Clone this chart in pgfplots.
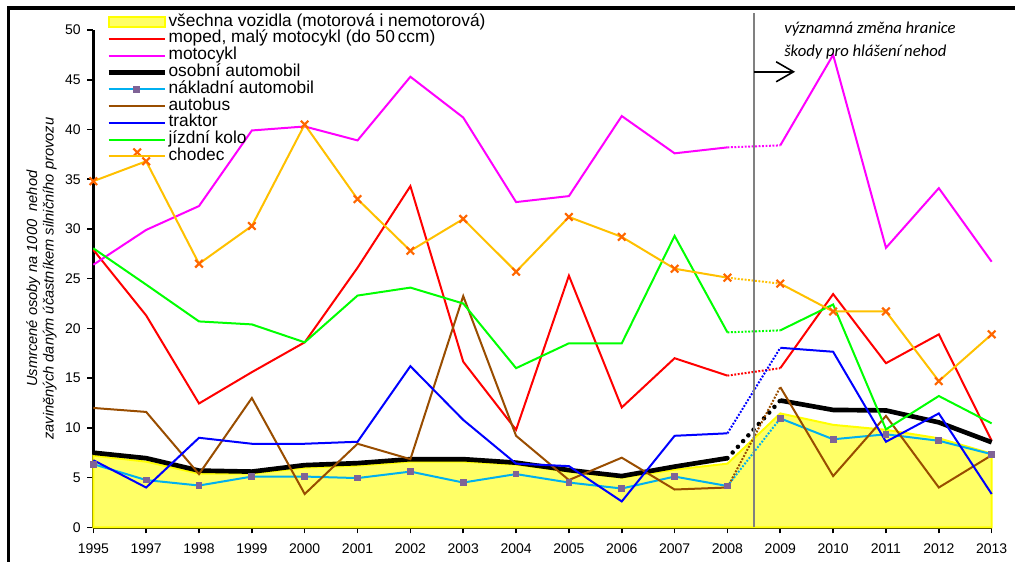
\documentclass[border=0pt]{standalone}
\usepackage{pgfplots}
\pgfplotsset{compat=1.18}
\usepackage{pgfplotstable}
\usepackage{fontspec}
\setmainfont{Liberation Sans}
\newfontfamily\annfont{Carlito}
\usetikzlibrary{arrows.meta}

\definecolor{cyellowfill}{HTML}{FFFF66}
\definecolor{cyellow}{HTML}{FFFF00}
\definecolor{cred}{HTML}{FF0000}
\definecolor{cmag}{HTML}{FF00FF}
\definecolor{ccyan}{HTML}{00B0F0}
\definecolor{cpurple}{HTML}{7F6396}
\definecolor{cbrown}{HTML}{994D00}
\definecolor{cblue}{HTML}{0000FF}
\definecolor{cgreen}{HTML}{00FF00}
\definecolor{corange}{HTML}{FFC000}
\definecolor{cxmark}{HTML}{FF6600}
\definecolor{cgray}{HTML}{808080}

\pgfplotsset{
  linleg/.style={legend image code/.code={\draw[##1] (0pt,0pt) -- (42pt,0pt);}},
  arealeg/.style={legend image code/.code={\draw[##1] (0pt,-3.5pt) rectangle (42pt,3.5pt);}},
  markleg/.style={legend image code/.code={\draw[mark repeat=2, mark phase=2, ##1] plot coordinates {(0pt,0pt) (21pt,0pt) (42pt,0pt)};}},
}

\pgfplotstableread{
x all moped moto osobni nakl autobus traktor kolo chodec
0 7.2 27.9 26.4 7.5 6.35 12.0 6.75 28.05 34.8
1 6.6 21.3 29.9 6.95 4.75 11.6 4.0 24.4 36.8
2 5.4 12.45 32.3 5.7 4.2 5.35 9.0 20.7 26.5
3 5.4 15.6 39.9 5.6 5.1 13.0 8.4 20.4 30.3
4 6.0 18.6 40.3 6.25 5.1 3.35 8.4 18.6 40.5
5 6.2 26.1 38.9 6.45 4.95 8.4 8.6 23.3 33.0
6 6.6 34.3 45.3 6.85 5.6 6.85 16.2 24.1 27.8
7 6.6 16.65 41.2 6.85 4.5 23.25 10.8 22.5 31.0
8 6.3 9.8 32.7 6.5 5.35 9.2 6.4 16.0 25.7
9 5.6 25.3 33.3 5.75 4.5 4.75 6.15 18.5 31.2
10 5.0 12.05 41.35 5.15 3.9 7.0 2.6 18.5 29.2
11 5.8 17.0 37.6 6.1 5.1 3.8 9.2 29.3 26.0
12 6.4 15.25 38.2 6.95 4.15 4.0 9.45 19.6 25.1
13 11.45 16.0 38.4 12.75 10.95 14.1 18.05 19.8 24.5
14 10.3 23.45 47.5 11.8 8.85 5.15 17.65 22.4 21.7
15 9.8 16.5 28.1 11.75 9.35 11.2 8.6 9.85 21.7
16 8.95 19.4 34.1 10.55 8.7 4.0 11.45 13.2 14.7
17 7.4 8.7 26.7 8.55 7.35 7.25 3.35 10.45 19.4
}\data

\begin{document}
\begin{tikzpicture}
% outer frame (left and top edges of the chart area), drawn first
\fill[black] (-64.8pt,-30pt) rectangle (-62.3pt,390.8pt);
\fill[black] (-64.8pt,388.3pt) rectangle (700pt,390.8pt);
\begin{axis}[
  at={(0pt,0pt)}, anchor=south west,
  scale only axis, width=673.8pt, height=373pt,
  xmin=0, xmax=17, ymin=0, ymax=50,
  axis x line*=bottom, axis y line*=left,
  axis line style={line width=2pt, -},
  xtick={0,...,17},
  xticklabels={1995,1997,1998,1999,2000,2001,2002,2003,2004,2005,2006,2007,2008,2009,2010,2011,2012,2013},
  ytick={0,5,...,50},
  tick align=outside,
  major tick length=4.5pt,
  tick style={black, line width=1.2pt},
  ticklabel style={font=\fontsize{10.5}{12}\selectfont},
  xticklabel style={yshift=-4pt},
  yticklabel style={xshift=-1.5pt},
  /pgf/number format/assume math mode=true,
  ylabel={Usmrcené osoby na 1000~~nehod\\zaviněných daným účastníkem silničního provozu},
  ylabel style={font=\itshape\fontsize{11}{12.3}\selectfont, align=center, at={(axis description cs:-0.0577,0.5)}, anchor=center},
  clip=false,
  legend cell align=left,
  legend style={at={(0.0097,1.0388)}, anchor=north west, draw=none, fill=none,
    font=\fontsize{13}{14}\selectfont, row sep=0pt,
    nodes={inner ysep=0pt, inner xsep=1.2pt, text height=9.4pt, text depth=3.2pt}},
  linleg,
  dseg/.style={dash pattern=on 1.4pt off 1.2pt},
]
% all vehicles area
\addplot[draw=cyellow, line width=1.5pt, fill=cyellowfill, arealeg]
  table[x=x,y=all]{\data} \closedcycle;
\addlegendentry{všechna vozidla (motorová i nemotorová)}

% moped
\addplot[cred, line width=1.5pt, restrict x to domain=0:12] table[x=x,y=moped]{\data};
\addlegendentry{moped, malý motocykl (do 50\,ccm)}
\addplot[cred, line width=1.5pt, forget plot, restrict x to domain=13:17] table[x=x,y=moped]{\data};
\addplot[cred, line width=1.5pt, forget plot, dseg, restrict x to domain=12:13] table[x=x,y=moped]{\data};

% motocykl
\addplot[cmag, line width=1.5pt, restrict x to domain=0:12] table[x=x,y=moto]{\data};
\addlegendentry{motocykl}
\addplot[cmag, line width=1.5pt, forget plot, restrict x to domain=13:17] table[x=x,y=moto]{\data};
\addplot[cmag, line width=1.5pt, forget plot, dseg, restrict x to domain=12:13] table[x=x,y=moto]{\data};

% osobni
\addplot[black, line width=3.5pt, line join=round, restrict x to domain=0:12] table[x=x,y=osobni]{\data};
\addlegendentry{osobní automobil}
\addplot[black, line width=3.5pt, line join=round, forget plot, restrict x to domain=13:17] table[x=x,y=osobni]{\data};
\addplot[black, line width=3.4pt, line cap=round, dash pattern=on 0pt off 5.8pt, forget plot, restrict x to domain=12:13] table[x=x,y=osobni]{\data};

% nakladni
\addplot[ccyan, line width=1.5pt, mark=square*, mark size=1.8pt, mark options={solid, draw=cpurple, fill=cpurple},
  restrict x to domain=0:12, markleg]
  table[x=x,y=nakl]{\data};
\addlegendentry{nákladní automobil}
\addplot[ccyan, line width=1.5pt, mark=square*, mark size=1.8pt, mark options={solid, draw=cpurple, fill=cpurple}, forget plot, restrict x to domain=13:17] table[x=x,y=nakl]{\data};
\addplot[ccyan, line width=1.5pt, forget plot, dseg, restrict x to domain=12:13] table[x=x,y=nakl]{\data};

% autobus
\addplot[cbrown, line width=1.5pt, restrict x to domain=0:12] table[x=x,y=autobus]{\data};
\addlegendentry{autobus}
\addplot[cbrown, line width=1.5pt, forget plot, restrict x to domain=13:17] table[x=x,y=autobus]{\data};
\addplot[cbrown, line width=1.5pt, forget plot, dseg, restrict x to domain=12:13] table[x=x,y=autobus]{\data};

% traktor
\addplot[cblue, line width=1.5pt, restrict x to domain=0:12] table[x=x,y=traktor]{\data};
\addlegendentry{traktor}
\addplot[cblue, line width=1.5pt, forget plot, restrict x to domain=13:17] table[x=x,y=traktor]{\data};
\addplot[cblue, line width=1.5pt, forget plot, dseg, restrict x to domain=12:13] table[x=x,y=traktor]{\data};

% kolo
\addplot[cgreen, line width=1.5pt, restrict x to domain=0:12] table[x=x,y=kolo]{\data};
\addlegendentry{jízdní kolo}
\addplot[cgreen, line width=1.5pt, forget plot, restrict x to domain=13:17] table[x=x,y=kolo]{\data};
\addplot[cgreen, line width=1.5pt, forget plot, dseg, restrict x to domain=12:13] table[x=x,y=kolo]{\data};

% chodec
\addplot[corange, line width=1.5pt, mark=x, mark size=4pt, mark options={solid, cxmark, line width=1.6pt}, restrict x to domain=0:12] table[x=x,y=chodec]{\data};
\addlegendentry{chodec}
\addplot[corange, line width=1.5pt, mark=x, mark size=4pt, mark options={solid, cxmark, line width=1.6pt}, forget plot, restrict x to domain=13:17] table[x=x,y=chodec]{\data};
\addplot[corange, line width=1.5pt, forget plot, dseg, restrict x to domain=12:13] table[x=x,y=chodec]{\data};
\addplot[only marks, mark=x, mark size=4pt, mark options={solid, cxmark, line width=1.6pt}, forget plot] coordinates {(0.83,37.7)};

% boundary marker
\draw[cgray, line width=1.5pt] (axis cs:12.5,0) -- (axis cs:12.5,51.7);
\draw[line width=1.2pt, -{Straight Barb[length=13pt,width=15pt]}] (axis cs:12.5,45.8) -- (axis cs:13.28,45.8);
\node[anchor=west, inner sep=0pt, font=\annfont\itshape\fontsize{12.5}{14}\selectfont] at (axis cs:13.07,50.1) {významná změna hranice};
\node[anchor=west, inner sep=0pt, font=\annfont\itshape\fontsize{12.5}{14}\selectfont] at (axis cs:13.07,47.8) {škody pro hlášení nehod};
\end{axis}
\pgfresetboundingbox
\useasboundingbox (-70pt,-26pt) rectangle (691.3pt,395.5pt);
\end{tikzpicture}
\end{document}
